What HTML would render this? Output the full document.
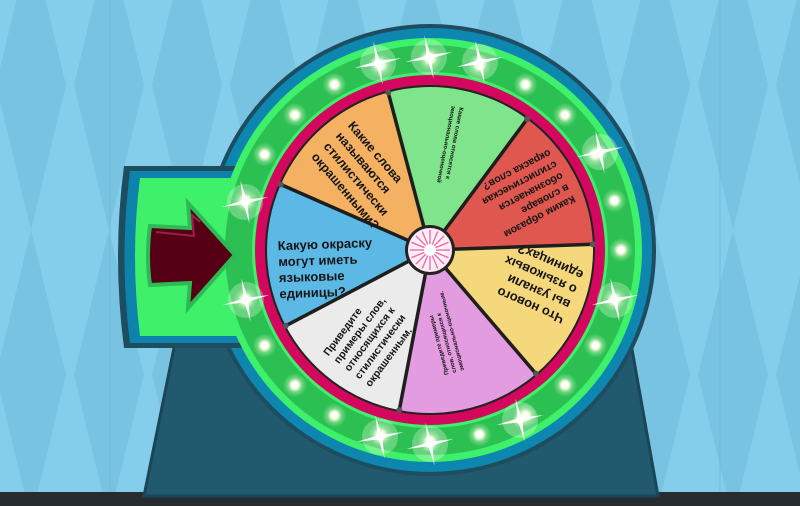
<!DOCTYPE html>
<html><head><meta charset="utf-8"><style>
html,body{margin:0;padding:0;width:800px;height:506px;overflow:hidden;background:#84ceec}
svg{display:block}
text{font-family:"Liberation Sans","DejaVu Sans",sans-serif;font-weight:bold;fill:#151515}
</style></head><body>
<svg width="800" height="506" viewBox="0 0 800 506" xmlns="http://www.w3.org/2000/svg">
<defs>
<pattern id="dia" width="78" height="290" patternUnits="userSpaceOnUse" x="-8" y="-60">
<rect width="78" height="290" fill="#84ceec"/>
<path d="M39,0 L74,145 L39,290 L4,145 Z" fill="#79c3e2"/>
</pattern>
<radialGradient id="glow"><stop offset="0" stop-color="#ffffff" stop-opacity="1"/><stop offset="0.35" stop-color="#fffbe0" stop-opacity="0.9"/><stop offset="0.6" stop-color="#e8ffd8" stop-opacity="0.35"/><stop offset="1" stop-color="#e8ffd8" stop-opacity="0"/></radialGradient>
<g id="light"><circle r="12" fill="url(#glow)"/><circle r="3.5" fill="#fff"/></g>
<g id="spark"><circle r="18" fill="#f4ffe8" opacity="0.3"/><circle r="8" fill="url(#glow)"/><path d="M0,-22 L2,-2 L24,0 L2,2 L0,22 L-2,2 L-24,0 L-2,-2 Z" fill="#fff" transform="rotate(-12)"/><circle r="4" fill="#fff"/></g>
<radialGradient id="hub"><stop offset="0.2" stop-color="#fff"/><stop offset="1" stop-color="#ffe6f3"/></radialGradient>
</defs>
<rect width="800" height="506" fill="url(#dia)"/>
<line x1="110" y1="0" x2="110" y2="506" stroke="#74b9d6" stroke-width="1"/>
<line x1="720" y1="0" x2="720" y2="506" stroke="#74b9d6" stroke-width="1"/>
<rect y="492" width="800" height="14" fill="#272c30"/>
<polygon points="176,338 630,338 658,496 144,496" fill="#215a6e" stroke="#1a4658" stroke-width="3"/>
<circle cx="430" cy="250" r="226" fill="#1d4d5f"/>
<circle cx="430" cy="250" r="222" fill="#0d86b0"/>
<path d="M250,166 L124,166 Q112,256 124,348 L250,348 Z" fill="#1d4d5f"/>
<path d="M250,171 L130,171 Q119,256 130,343 L250,343 Z" fill="#0d82ab"/>
<path d="M250,178 L140,178 Q130,256 140,336 L250,336 Z" fill="#3ef06a"/>
<circle cx="430" cy="250" r="212" fill="#3ef06a"/>
<circle cx="430" cy="250" r="205" fill="#2cc052"/>
<circle cx="430" cy="250" r="178" fill="#3ef06a"/>
<circle cx="430" cy="250" r="175" fill="#d3075e"/>
<circle cx="430" cy="250" r="165" fill="#222"/>
<path d="M150,226 L190,228 L188,203 L235,255 L188,308 L190,283 L150,285 Q146,256 150,226 Z" fill="#560016" stroke="#2db955" stroke-width="4"/>
<path d="M156,232 L194,236 L192,215 L200,222" fill="none" stroke="#9a2046" stroke-width="2"/>
<g transform="translate(2,0)">
<path d="M428,250 L590.9,244.3 A163,163 0 0 1 534,373.8 Z" fill="#f5d77c"/>
<path d="M428,250 L534,373.8 A163,163 0 0 1 397.3,410.1 Z" fill="#e39ce0"/>
<path d="M428,250 L397.3,410.1 A163,163 0 0 1 283.7,325.8 Z" fill="#ebebeb"/>
<path d="M428,250 L283.7,325.8 A163,163 0 0 1 278.8,184.5 Z" fill="#5cb9e6"/>
<path d="M428,250 L278.8,184.5 A163,163 0 0 1 386.2,92.5 Z" fill="#f4b162"/>
<path d="M428,250 L386.2,92.5 A163,163 0 0 1 525.1,119.1 Z" fill="#80e48c"/>
<path d="M428,250 L525.1,119.1 A163,163 0 0 1 590.9,244.3 Z" fill="#df574f"/>
<g stroke="#1e1e1e" stroke-width="3.5">
<line x1="428" y1="250" x2="590.9" y2="244.3"/><line x1="428" y1="250" x2="534" y2="373.8"/>
<line x1="428" y1="250" x2="397.3" y2="410.1"/><line x1="428" y1="250" x2="283.7" y2="325.8"/>
<line x1="428" y1="250" x2="278.8" y2="184.5"/><line x1="428" y1="250" x2="386.2" y2="92.5"/>
<line x1="428" y1="250" x2="525.1" y2="119.1"/>
</g>
<g fill="#555"><circle cx="590.9" cy="244.3" r="3"/><circle cx="534" cy="373.8" r="3"/><circle cx="397.3" cy="410.1" r="3"/><circle cx="283.7" cy="325.8" r="3"/><circle cx="278.8" cy="184.5" r="3"/><circle cx="386.2" cy="92.5" r="3"/><circle cx="525.1" cy="119.1" r="3"/></g>
<g transform="translate(428,250) rotate(-2)" font-size="13">
<text x="-152" y="-5">Какую окраску</text><text x="-152" y="11">могут иметь</text><text x="-152" y="27">языковые</text><text x="-152" y="43">единицы?</text></g>
<g transform="translate(428,250) rotate(49.4)" font-size="12.5">
<text x="-148" y="-18">Какие слова</text><text x="-148" y="-2">называются</text><text x="-148" y="14">стилистически</text><text x="-148" y="30">окрашенными?</text></g>
<g transform="translate(428,250) rotate(-156.3)" font-size="13">
<text x="-150" y="-6">Что нового</text><text x="-150" y="10">вы узнали</text><text x="-150" y="26">о языковых</text><text x="-150" y="42">единицах?</text></g>
<g transform="translate(428,250) rotate(152.3)" font-size="10.5">
<text x="-152" y="-18">Каким образом</text><text x="-152" y="-5">в словаре</text><text x="-152" y="8">обозначается</text><text x="-152" y="21">стилистическая</text><text x="-152" y="34">окраска слов?</text></g>
<g transform="translate(428,250) rotate(-53.4)" font-size="10.5">
<text x="-146" y="-18">Приведите</text><text x="-146" y="-5">примеры слов,</text><text x="-146" y="8">относящихся к</text><text x="-146" y="21">стилистически</text><text x="-146" y="34">окрашенным.</text></g>
<g transform="translate(428,250) rotate(100.9)" font-size="6">
<text x="-146" y="-2">Какие слова относятся к</text><text x="-146" y="6">эмоционально-оценочной</text></g>
<g transform="translate(428,250) rotate(-104.9)" font-size="6">
<text x="-125" y="-14">Приведите примеры</text><text x="-125" y="-6">слов, относящихся к</text><text x="-125" y="2">эмоционально-оценочным.</text></g>
<circle cx="428" cy="250" r="25" fill="#222"/>
<circle cx="428" cy="250" r="22" fill="url(#hub)"/>
<g transform="translate(428,250)" stroke="#f06aa8" stroke-width="1.4">
<line x1="6" y1="0" x2="20" y2="0"/><line x1="-6" y1="0" x2="-20" y2="0"/><line x1="0" y1="6" x2="0" y2="20"/><line x1="0" y1="-6" x2="0" y2="-20"/>
<line x1="4.2" y1="4.2" x2="14" y2="14"/><line x1="-4.2" y1="4.2" x2="-14" y2="14"/><line x1="4.2" y1="-4.2" x2="14" y2="-14"/><line x1="-4.2" y1="-4.2" x2="-14" y2="-14"/>
<line x1="5.5" y1="2.3" x2="18.5" y2="7.7"/><line x1="-5.5" y1="2.3" x2="-18.5" y2="7.7"/><line x1="5.5" y1="-2.3" x2="18.5" y2="-7.7"/><line x1="-5.5" y1="-2.3" x2="-18.5" y2="-7.7"/>
<line x1="2.3" y1="5.5" x2="7.7" y2="18.5"/><line x1="-2.3" y1="5.5" x2="-7.7" y2="18.5"/><line x1="2.3" y1="-5.5" x2="7.7" y2="-18.5"/><line x1="-2.3" y1="-5.5" x2="-7.7" y2="-18.5"/>
</g>
</g>
<g transform="translate(430,250)">
<use href="#light" transform="rotate(0) translate(191,0)"/><use href="#light" transform="rotate(15) translate(191,0)"/>
<use href="#light" transform="rotate(30) translate(191,0)"/><use href="#light" transform="rotate(45) translate(191,0)"/>
<use href="#light" transform="rotate(60) translate(191,0)"/><use href="#light" transform="rotate(75) translate(191,0)"/>
<use href="#light" transform="rotate(90) translate(191,0)"/><use href="#light" transform="rotate(105) translate(191,0)"/>
<use href="#light" transform="rotate(120) translate(191,0)"/><use href="#light" transform="rotate(135) translate(191,0)"/>
<use href="#light" transform="rotate(150) translate(191,0)"/><use href="#light" transform="rotate(165) translate(191,0)"/>
<use href="#light" transform="rotate(195) translate(191,0)"/>
<use href="#light" transform="rotate(210) translate(191,0)"/><use href="#light" transform="rotate(225) translate(191,0)"/>
<use href="#light" transform="rotate(240) translate(191,0)"/><use href="#light" transform="rotate(255) translate(191,0)"/>
<use href="#light" transform="rotate(270) translate(191,0)"/><use href="#light" transform="rotate(285) translate(191,0)"/>
<use href="#light" transform="rotate(300) translate(191,0)"/><use href="#light" transform="rotate(315) translate(191,0)"/>
<use href="#light" transform="rotate(330) translate(191,0)"/><use href="#light" transform="rotate(345) translate(191,0)"/>
</g>
<use href="#spark" x="378" y="63"/><use href="#spark" x="429" y="57"/><use href="#spark" x="480" y="62"/>
<use href="#spark" x="245" y="202"/><use href="#spark" x="246" y="300"/><use href="#spark" x="615" y="300"/>
<use href="#spark" x="600" y="152"/><use href="#spark" x="380" y="437"/><use href="#spark" x="430" y="444"/>
<use href="#spark" x="520" y="420"/>
</svg>
</body></html>
